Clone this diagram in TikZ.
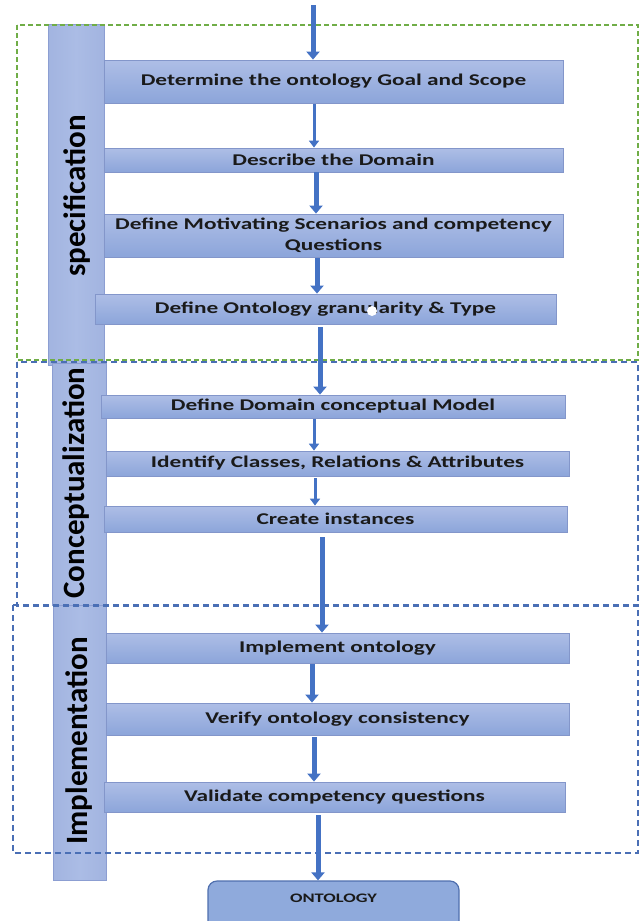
\documentclass[tikz,border=0pt]{standalone}
\usepackage{fontspec}
\setmainfont{Carlito}
\newfontfamily\boxfont[FakeStretch=1.42]{Carlito}
\usetikzlibrary{arrows.meta}
\definecolor{boxtop}{HTML}{AEBEE6}
\definecolor{boxbot}{HTML}{8CA5DA}
\definecolor{boxedge}{HTML}{8396CA}
\definecolor{bartone}{HTML}{A2B4E0}
\definecolor{barmid}{HTML}{ABBCE5}
\definecolor{baredge}{HTML}{8C9ED2}
\definecolor{arrowblue}{HTML}{4472C4}
\definecolor{dashgreen}{HTML}{70AD47}
\definecolor{dashblue}{HTML}{4A6FB5}
\definecolor{txt}{HTML}{1A1A1A}
\definecolor{ontfill}{HTML}{8FAADC}
\definecolor{ontedge}{HTML}{4F6FAE}
\tikzset{
  stepbox/.style={draw=boxedge, line width=0.8pt, top color=boxtop, bottom color=boxbot,
    inner sep=0pt, font=\boxfont\bfseries\fontsize{16.4}{20.5}\selectfont, text=txt, align=center},
  phasebar/.style={draw=baredge, line width=0.8pt, left color=bartone, right color=bartone, middle color=barmid, inner sep=0pt},
  phaselabel/.style={rotate=90, font=\bfseries\fontsize{31}{31}\selectfont, text=black, inner sep=0pt},
  flow/.style={draw=arrowblue, line width=5pt, -{Triangle[width=13pt,length=8pt]}},
  thinflow/.style={draw=arrowblue, line width=3pt, -{Triangle[width=10pt,length=7pt]}},
  greenframe/.style={draw=dashgreen, line width=1.1pt, dash pattern=on 5pt off 3pt},
  blueframe/.style={draw=dashblue, line width=1.1pt, dash pattern=on 6pt off 4pt},
}
\begin{document}
\begin{tikzpicture}[x=1pt, y=-1pt]
\useasboundingbox (0,0) rectangle (642,921);
\clip (0,0) rectangle (642,921);
% phase bars
\node[phasebar, minimum width=56, minimum height=341] (bar1) at (76,194.5) {};
\node[phasebar, minimum width=54, minimum height=242] (bar2) at (79,484) {};
\node[phasebar, minimum width=53, minimum height=275] (bar3) at (79.5,742.5) {};
\node[phaselabel] (lab1) at (77,196) {specification};
\node[phaselabel] (lab2) at (76,483) {Conceptualization};
\node[phaselabel] (lab3) at (79,741) {Implementation};
% dashed frames
\draw[greenframe] (17,25) rectangle (638,360);
\draw[blueframe] (17,362) rectangle (638,606);
\draw[blueframe] (13,605) rectangle (638,853);
% step boxes
\node[stepbox, minimum width=459, minimum height=43] (b1) at (333.5,81.5) {Determine the ontology Goal and Scope};
\node[stepbox, minimum width=459, minimum height=24] (b2) at (333.5,160) {Describe the Domain};
\node[stepbox, minimum width=459, minimum height=43] (b3) at (333.5,235.5) {Define Motivating Scenarios and competency\\Questions};
\node[stepbox, minimum width=461, minimum height=30] (b4) at (325.5,309) {Define Ontology granularity \& Type};
\fill[white] (372,311) circle (5);
\node[stepbox, minimum width=464, minimum height=23] (b5) at (333,406.5) {Define Domain conceptual Model};
\node[stepbox, minimum width=463, minimum height=25] (b6) at (337.5,463.5) {Identify Classes, Relations \& Attributes};
\node[stepbox, minimum width=463, minimum height=26] (b7) at (335.5,519) {Create instances};
\node[stepbox, minimum width=463, minimum height=30] (b8) at (337.5,648) {Implement ontology};
\node[stepbox, minimum width=463, minimum height=32] (b9) at (337.5,719) {Verify ontology consistency};
\node[stepbox, minimum width=461, minimum height=30] (b10) at (334.5,797) {Validate competency questions};
\node[draw=ontedge, line width=1.2pt, fill=ontfill, rounded corners=9pt, minimum width=251, minimum height=59, inner sep=0pt,
  label={[font=\boxfont\bfseries\fontsize{13}{13}\selectfont, text=txt, yshift=12.5pt]center:ONTOLOGY}] (ont) at (333.5,910.5) {};
% arrow columns
\coordinate (start) at (313,5);
\coordinate (c0) at (313,0);
\coordinate (c1) at (314,0);
\coordinate (c2) at (316,0);
\coordinate (c3) at (317,0);
\coordinate (c4) at (320,0);
\coordinate (c5) at (314,0);
\coordinate (c6) at (315,0);
\coordinate (c7) at (322,0);
\coordinate (c8) at (312,0);
\coordinate (c9) at (314,0);
\coordinate (c10) at (318,0);
\draw[flow] (start) -- (c0 |- b1.north);
\draw[thinflow, shorten <=1pt] (c1 |- b1.south) -- (c1 |- b2.north);
\draw[flow] (c2 |- b2.south) -- (c2 |- b3.north);
\draw[flow, shorten <=1pt] (c3 |- b3.south) -- (c3 |- b4.north);
\draw[flow, shorten <=3pt] (c4 |- b4.south) -- (c4 |- b5.north);
\draw[thinflow, shorten <=1pt] (c5 |- b5.south) -- (c5 |- b6.north);
\draw[thinflow, shorten <=2pt] (c6 |- b6.south) -- (c6 |- b7.north);
\draw[flow, shorten <=5pt] (c7 |- b7.south) -- (c7 |- b8.north);
\draw[flow, shorten <=1pt] (c8 |- b8.south) -- (c8 |- b9.north);
\draw[flow, shorten <=2pt] (c9 |- b9.south) -- (c9 |- b10.north);
\draw[flow, shorten <=3pt] (c10 |- b10.south) -- (c10 |- ont.north);
\end{tikzpicture}
\end{document}
